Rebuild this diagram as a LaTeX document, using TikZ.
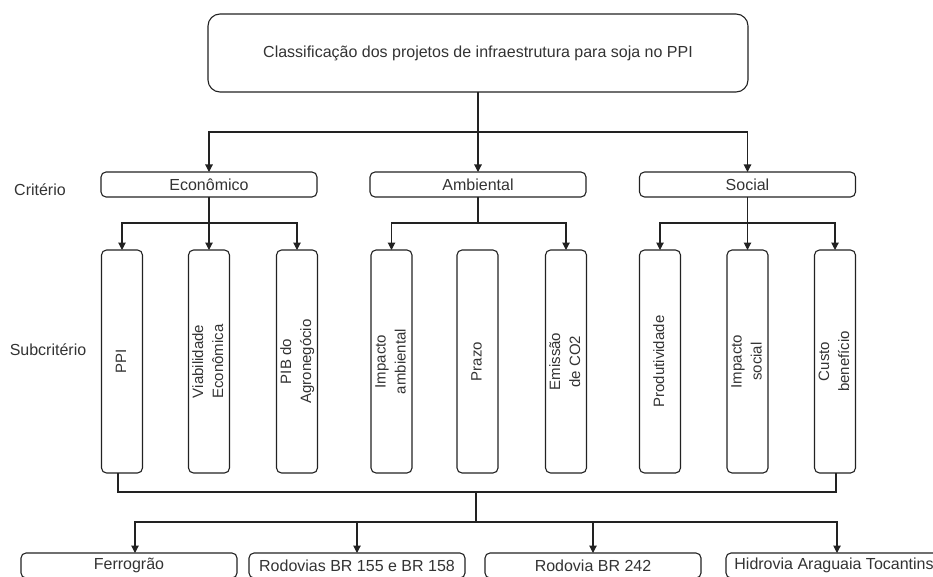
\documentclass[tikz,border=0pt]{standalone}
\usepackage{fontspec}
\setmainfont{Liberation Sans}
\usetikzlibrary{arrows.meta}
\definecolor{ln}{HTML}{222222}
\definecolor{tx}{HTML}{333333}
\newcommand\vtxt[1]{\rotatebox{90}{\begin{tabular}{@{}c@{}}#1\end{tabular}}}
\begin{document}
\begin{tikzpicture}[x=1pt,y=-1pt,
  every node/.style={inner sep=0pt, outer sep=0pt, text=tx},
  bx/.style={draw=ln, line width=1.1pt, rounded corners=5pt, font=\fontsize{16}{19}\selectfont},
  crit/.style={bx, minimum width=216pt, minimum height=25pt},
  subc/.style={bx, minimum width=41pt, minimum height=223pt, font=\fontsize{15}{20}\selectfont},
  conn/.style={draw=ln, line width=1.1pt},
  arr/.style={conn, -{Triangle[length=7.5pt,width=7.5pt]}},
  lbl/.style={font=\fontsize{16}{19}\selectfont}
]
\useasboundingbox (0,0) rectangle (933,577);
\clip (0,0) rectangle (933,577);

% top
\node[bx, rounded corners=12pt, minimum width=540pt, minimum height=78pt] (top) at (478,53)
  {Classificação dos projetos de infraestrutura para soja no PPI};

% side labels
\node[lbl] (lcrit) at (40,190) {Critério};
\node[lbl] (lsub) at (48,350) {Subcritério};

% criteria
\node[crit] (eco) at (209,184.5) {Econômico};
\node[crit] (amb) at (478,184.5) {Ambiental};
\node[crit] (soc) at (747.5,184.5) {Social};

% subcriteria
\node[subc] (ppi)   at (122,361.5) {\vtxt{PPI}};
\node[subc] (viab)  at (209,361.5) {\vtxt{Viabilidade\\Econômica}};
\node[subc] (pib)   at (297,361.5) {\vtxt{PIB do\\Agronegócio}};
\node[subc] (imp)   at (391.5,361.5) {\vtxt{Impacto\\ambiental}};
\node[subc] (prazo) at (477.5,361.5) {\vtxt{Prazo}};
\node[subc] (emis)  at (566,361.5) {\vtxt{Emissão\\de CO2}};
\node[subc] (prod)  at (660,361.5) {\vtxt{Produtividade}};
\node[subc] (imps)  at (747.5,361.5) {\vtxt{Impacto\\social}};
\node[subc] (custo) at (835,361.5) {\vtxt{Custo\\benefício}};

% projects
\node[crit] (ferr) at (129,565.5) {Ferrogrão};
\node[crit] (rod)  at (357,565.5) {Rodovias BR 155 e BR 158};
\node[crit] (br)   at (593,565.5) {Rodovia BR 242};
\node[crit] (hid)  at (834,565.5) {Hidrovia Araguaia Tocantins};

% connectors top -> criteria
\draw[arr] (top.south) -- ++(0,40) -| (eco.north);
\draw[arr] (top.south) -- (amb.north);
\draw[arr] (top.south) -- ++(0,40) -| (soc.north);

% criteria -> subcriteria
\draw[arr] (eco.south) -- ++(0,26) -| (ppi.north);
\draw[arr] (eco.south) -- (viab.north);
\draw[arr] (eco.south) -- ++(0,26) -| (pib.north);
\draw[arr] (amb.south) -- ++(0,26) -| (imp.north);
\draw[arr] (amb.south) -- ++(0,26) -| (emis.north);
\draw[arr] (soc.south) -- ++(0,26) -| (prod.north);
\draw[arr] (soc.south) -- (imps.north);
\draw[arr] (soc.south) -- ++(0,26) -| (custo.north);

% subcriteria -> projects
\coordinate (mid) at (476,492);
\coordinate (split) at (476,522);
\draw[conn] ([xshift=-4pt]ppi.south) |- (mid) -| ([xshift=1pt]custo.south);
\draw[conn] (mid) -- (split);
\draw[arr] (split) -| ([xshift=6pt]ferr.north);
\draw[arr] (split) -| (rod.north);
\draw[arr] (split) -| (br.north);
\draw[arr] (split) -| ([xshift=3pt]hid.north);
\end{tikzpicture}
\end{document}
